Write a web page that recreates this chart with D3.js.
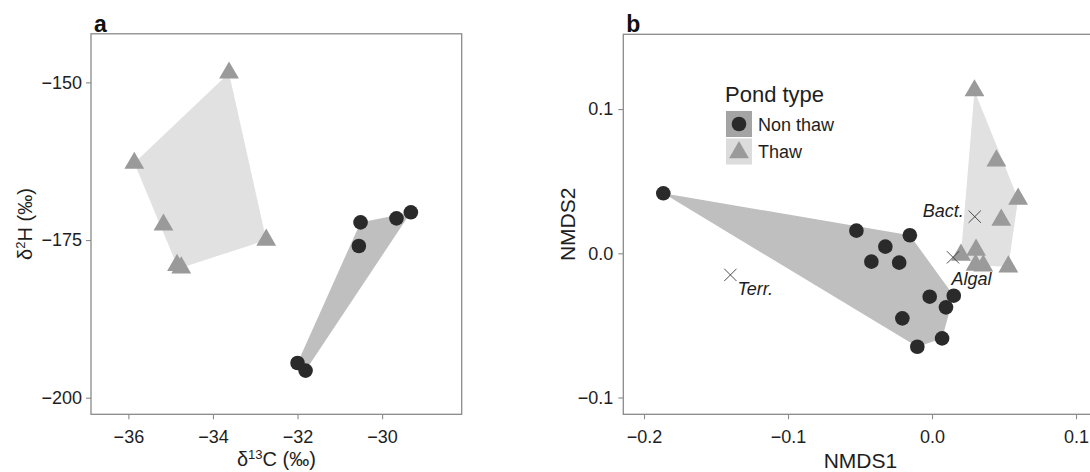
<!DOCTYPE html>
<html>
<head>
<meta charset="utf-8">
<script src="https://cdn.jsdelivr.net/npm/d3@7"></script>
<style>
body { margin: 0; background: #fff; }
svg { display: block; font-family: "Liberation Sans", Arial, sans-serif; }
</style>
</head>
<body>
<div id="chart"></div>
<script>
// ---- panel a: d13C vs d2H ----
const isoNonThawC = [-30.51, -30.55, -29.66, -29.32, -32.0, -31.81];
const isoNonThawH = [-172.2, -175.95, -171.56, -170.6, -194.5, -195.7];
const isoThawC = [-33.62, -35.86, -35.17, -32.74, -34.85, -34.75];
const isoThawH = [-148.5, -162.8, -172.6, -175.0, -179.0, -179.4];
const isoTicksX = [-36, -34, -32, -30];
const isoTicksY = [-150, -175, -200];

// ---- panel b: NMDS ----
const nmdsNonThaw1 = [-0.1866, -0.0525, -0.0154, -0.0324, -0.0421, -0.0228, -0.0016, 0.0151, 0.0097, -0.0206, 0.0070, -0.0102];
const nmdsNonThaw2 = [0.0416, 0.0157, 0.0125, 0.0046, -0.0058, -0.0065, -0.0301, -0.0294, -0.0375, -0.0451, -0.0590, -0.0648];
const nmdsThaw1 = [0.0295, 0.0447, 0.0598, 0.0481, 0.0201, 0.0306, 0.0303, 0.0356, 0.0530];
const nmdsThaw2 = [0.1128, 0.0642, 0.0377, 0.0231, -0.0012, 0.0023, -0.0081, -0.0086, -0.0093];
const sourceNames = ['Terr.', 'Bact.', 'Algal'];
const sourceNmds1 = [-0.140, 0.0297, 0.0146];
const sourceNmds2 = [-0.0150, 0.0254, -0.0028];
const nmdsTicksX = [-0.2, -0.1, 0.0, 0.1];
const nmdsTicksY = [-0.1, 0.0, 0.1];

const pondTypes = ['Non thaw', 'Thaw'];

// styling
const col = {
    nonPoint: '#2a2a2a', thawPoint: '#9a9a9a',
    nonHull: '#bfbfbf', thawHull: '#e1e1e1',
    nonKey: '#a4a4a4', thawKey: '#dcdcdc',
    border: '#8a8a8a', text: '#1e1e1e'
};
const circleR = 7.3;
const triSize = 170;

const svg = d3.select('#chart').append('svg')
    .attr('width', 1090)
    .attr('height', 472);

const zip = (a, b) => a.map((v, i) => [v, b[i]]);

function styleAxis(g) {
    g.select('.domain').remove();
    g.selectAll('.tick line').attr('stroke', col.border).attr('stroke-width', 1.1);
    g.selectAll('.tick text').attr('fill', col.text).style('font-size', '18px');
}

function drawPanel(cfg) {
    const x = d3.scaleLinear().domain(cfg.xDomain).range([cfg.left, cfg.right]);
    const y = d3.scaleLinear().domain(cfg.yDomain).range([cfg.bottom, cfg.top]);
    const g = svg.append('g');

    // x axis
    g.append('g')
        .attr('transform', `translate(0,${cfg.bottom})`)
        .call(d3.axisBottom(x).tickValues(cfg.xTicks).tickFormat(cfg.xFormat).tickSize(5))
        .call(styleAxis)
        .call(a => a.selectAll('.tick text').attr('y', 29).attr('dy', 0));

    // y axis
    g.append('g')
        .attr('transform', `translate(${cfg.left},0)`)
        .call(d3.axisLeft(y).tickValues(cfg.yTicks).tickFormat(cfg.yFormat).tickSize(5).tickPadding(cfg.yPad))
        .call(styleAxis);

    // plot area and border
    const area = g.append('g');
    g.append('rect')
        .attr('x', cfg.left).attr('y', cfg.top)
        .attr('width', cfg.right - cfg.left).attr('height', cfg.bottom - cfg.top)
        .attr('fill', 'none').attr('stroke', col.border).attr('stroke-width', 1.3);

    // panel letter
    g.append('text')
        .attr('x', cfg.left + 3).attr('y', 31.5)
        .attr('font-weight', 'bold').attr('font-size', 23).attr('fill', '#111')
        .text(cfg.letter);

    return {x, y, g, area};
}

function drawGroup(p, pts, hullFill) {
    const px = pts.map(d => [p.x(d[0]), p.y(d[1])]);
    const hull = d3.polygonHull(px);
    p.area.append('path')
        .attr('d', 'M' + hull.join('L') + 'Z')
        .attr('fill', hullFill);
    return px;
}

function drawPoints(p, px, shape) {
    if (shape === 'circle') {
        p.area.selectAll(null).data(px).join('circle')
            .attr('cx', d => d[0]).attr('cy', d => d[1])
            .attr('r', circleR).attr('fill', col.nonPoint);
    } else {
        p.area.selectAll(null).data(px).join('path')
            .attr('transform', d => `translate(${d[0]},${d[1]})`)
            .attr('d', d3.symbol(d3.symbolTriangle, triSize))
            .attr('fill', col.thawPoint);
    }
}

// ---------- panel a ----------
const fmtMinus = d => d3.format('d')(d).replace('-', '\u2212');
const pa = drawPanel({
    letter: 'a',
    left: 91, right: 461.7, top: 33.8, bottom: 414.3,
    xDomain: [-36.884, -28.118], yDomain: [-202.63, -142.3],
    xTicks: isoTicksX, yTicks: isoTicksY,
    xFormat: fmtMinus, yFormat: fmtMinus, yPad: 4
});
const aThaw = drawGroup(pa, zip(isoThawC, isoThawH), col.thawHull);
const aNon = drawGroup(pa, zip(isoNonThawC, isoNonThawH), col.nonHull);
drawPoints(pa, aThaw, 'triangle');
drawPoints(pa, aNon, 'circle');

// axis titles a
const xtA = svg.append('text')
    .attr('x', (91 + 461.7) / 2).attr('y', 466)
    .attr('text-anchor', 'middle').attr('font-size', 20).attr('fill', col.text);
xtA.append('tspan').text('\u03b4');
xtA.append('tspan').attr('font-size', 13).attr('dy', -7).text('13');
xtA.append('tspan').attr('dy', 7).text('C (\u2030)');

const ytA = svg.append('text')
    .attr('transform', `translate(32,${(33.8 + 414.3) / 2}) rotate(-90)`)
    .attr('text-anchor', 'middle').attr('font-size', 20).attr('fill', col.text);
ytA.append('tspan').text('\u03b4');
ytA.append('tspan').attr('font-size', 13).attr('dy', -7).text('2');
ytA.append('tspan').attr('dy', 7).text('H (\u2030)');

// ---------- panel b ----------
const pb = drawPanel({
    letter: 'b',
    left: 623.3, right: 1097, top: 34.3, bottom: 414.3,
    xDomain: [-0.21438, 0.11458], yDomain: [-0.11165, 0.15187],
    xTicks: nmdsTicksX, yTicks: nmdsTicksY,
    xFormat: d => d3.format('.1f')(d).replace('-', '\u2212'),
    yFormat: d3.format('.1f'), yPad: 5
});
const bNon = drawGroup(pb, zip(nmdsNonThaw1, nmdsNonThaw2), col.nonHull);
const bThaw = drawGroup(pb, zip(nmdsThaw1, nmdsThaw2), col.thawHull);
drawPoints(pb, bNon, 'circle');
drawPoints(pb, bThaw, 'triangle');

// source end-members
const labelOffset = {'Terr.': [7, 20, 'start'], 'Bact.': [-11, 0.5, 'end'], 'Algal': [-1.5, 28, 'start']};
const sources = sourceNames.map((n, i) => ({name: n, x: pb.x(sourceNmds1[i]), y: pb.y(sourceNmds2[i])}));
pb.area.selectAll(null).data(sources).join('path')
    .attr('transform', d => `translate(${d.x},${d.y})`)
    .attr('d', d3.symbol(d3.symbolX, 100))
    .attr('fill', 'none').attr('stroke', '#3a3a3a').attr('stroke-width', 0.9);
pb.area.selectAll(null).data(sources).join('text')
    .attr('x', d => d.x + labelOffset[d.name][0])
    .attr('y', d => d.y + labelOffset[d.name][1])
    .attr('text-anchor', d => labelOffset[d.name][2])
    .attr('font-style', 'italic').attr('font-size', 18).attr('fill', col.text)
    .text(d => d.name);

// axis titles b
svg.append('text')
    .attr('x', 860.4).attr('y', 468)
    .attr('text-anchor', 'middle').attr('font-size', 21).attr('fill', col.text)
    .text('NMDS1');
svg.append('text')
    .attr('transform', `translate(575,${(34.3 + 414.3) / 2}) rotate(-90)`)
    .attr('text-anchor', 'middle').attr('font-size', 21).attr('fill', col.text)
    .text('NMDS2');

// legend
const legend = svg.append('g').attr('transform', 'translate(726,0)');
legend.append('text')
    .attr('x', -1).attr('y', 101.5)
    .attr('font-size', 22).attr('fill', col.text)
    .text('Pond type');
const keys = legend.selectAll('g.key').data(pondTypes).join('g')
    .attr('class', 'key')
    .attr('transform', (d, i) => `translate(0,${111 + i * 27.5})`);
keys.append('rect')
    .attr('width', 26).attr('height', 26)
    .attr('fill', (d, i) => i === 0 ? col.nonKey : col.thawKey);
keys.each(function(d, i) {
    const k = d3.select(this);
    if (i === 0) {
        k.append('circle').attr('cx', 13).attr('cy', 13).attr('r', circleR).attr('fill', col.nonPoint);
    } else {
        k.append('path').attr('transform', 'translate(13,14)')
            .attr('d', d3.symbol(d3.symbolTriangle, triSize)).attr('fill', col.thawPoint);
    }
});
keys.append('text')
    .attr('x', 32).attr('y', 19.5)
    .attr('font-size', 18).attr('fill', col.text)
    .text(d => d);
</script>
</body>
</html>
